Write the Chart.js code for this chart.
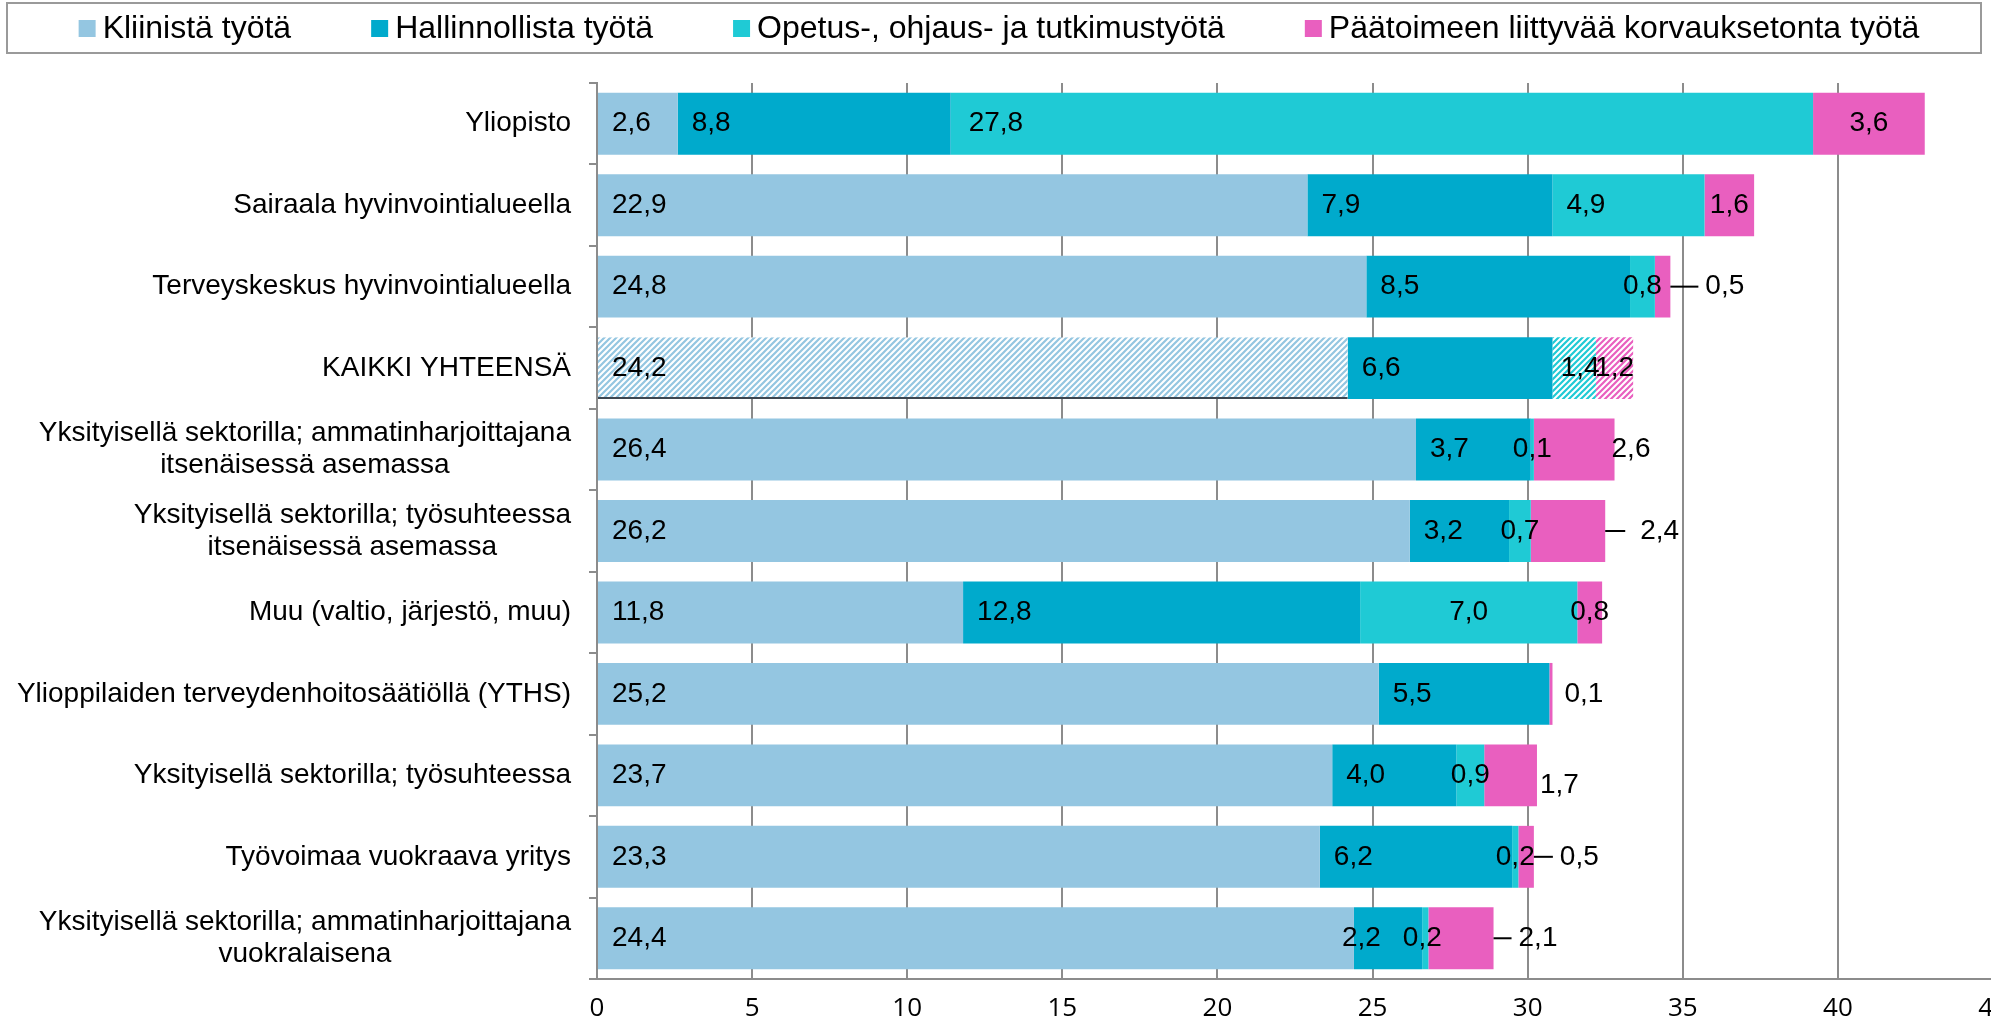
<!DOCTYPE html>
<html>
<head>
<meta charset="utf-8">
<script src="https://cdn.jsdelivr.net/npm/chart.js@4/dist/chart.umd.min.js"></script>
<style>
  html, body { margin: 0; padding: 0; overflow: hidden; background: #fff; }
</style>
</head>
<body>
<canvas id="chart" width="2000" height="1027"></canvas>
<script>
// ---------------- data ----------------
const categories = [
    ['Yliopisto'],
    ['Sairaala hyvinvointialueella'],
    ['Terveyskeskus hyvinvointialueella'],
    ['KAIKKI YHTEENSÄ'],
    ['Yksityisellä sektorilla; ammatinharjoittajana', 'itsenäisessä asemassa'],
    ['Yksityisellä sektorilla; työsuhteessa', 'itsenäisessä asemassa'],
    ['Muu (valtio, järjestö, muu)'],
    ['Ylioppilaiden terveydenhoitosäätiöllä (YTHS)'],
    ['Yksityisellä sektorilla; työsuhteessa'],
    ['Työvoimaa vuokraava yritys'],
    ['Yksityisellä sektorilla; ammatinharjoittajana', 'vuokralaisena']
];
const seriesNames = ['Kliinistä työtä', 'Hallinnollista työtä', 'Opetus-, ohjaus- ja tutkimustyötä', 'Päätoimeen liittyvää korvauksetonta työtä'];
const kliininen      = [2.6, 22.9, 24.8, 24.2, 26.4, 26.2, 11.8, 25.2, 23.7, 23.3, 24.4];
const hallinnollinen = [8.8, 7.9, 8.5, 6.6, 3.7, 3.2, 12.8, 5.5, 4.0, 6.2, 2.2];
const opetus         = [27.8, 4.9, 0.8, 1.4, 0.1, 0.7, 7.0, 0.0, 0.9, 0.2, 0.2];
const korvaukseton   = [3.6, 1.6, 0.5, 1.2, 2.6, 2.4, 0.8, 0.1, 1.7, 0.5, 2.1];
const xMin = 0, xMax = 45, xStep = 5;
const totalRow = 3; // KAIKKI YHTEENSÄ, drawn hatched

// ---------------- styles ----------------
const colors = ['#94c6e1', '#00aacc', '#1fcad5', '#e95fbf'];
const gridColor = '#8c8c8c';
const fontMain = '"Liberation Sans", Arial, sans-serif';

// where each value label goes (per series, per row)
const labelPlace = [
    Array(11).fill({ m: 'base' }),
    [{ m: 'base' }, { m: 'base' }, { m: 'base' }, { m: 'base' }, { m: 'base' }, { m: 'base' },
     { m: 'base' }, { m: 'base' }, { m: 'base' }, { m: 'base' }, { m: 'base', dx: -26 }],
    [{ m: 'base', dx: 4 }, { m: 'base' }, { m: 'center' }, { m: 'center', dx: 6 }, { m: 'center' }, { m: 'center' },
     { m: 'center' }, { m: 'center' }, { m: 'center' }, { m: 'center' }, { m: 'center', dx: -3 }],
    [{ m: 'center' }, { m: 'center' }, { m: 'leader', len: 28, gap: 7 }, { m: 'center' }, { m: 'end', dx: -3 },
     { m: 'leader', len: 20, gap: 15 }, { m: 'center' }, { m: 'end', dx: 12 }, { m: 'end', dx: 3, dy: 10 },
     { m: 'leader', len: 19, gap: 7 }, { m: 'leader', len: 18, gap: 7 }]
];

const ctx = document.getElementById('chart').getContext('2d');

function hatch(color) {
    const t = document.createElement('canvas');
    t.width = 6; t.height = 6;
    const g = t.getContext('2d');
    g.fillStyle = '#fff';
    g.fillRect(0, 0, 6, 6);
    g.strokeStyle = color;
    g.lineWidth = 2.2;
    g.beginPath();
    g.moveTo(-1, 7); g.lineTo(7, -1);
    g.moveTo(-1, 1); g.lineTo(1, -1);
    g.moveTo(5, 7); g.lineTo(7, 5);
    g.stroke();
    return ctx.createPattern(t, 'repeat');
}

function fills(i, hatched) {
    const pat = hatched ? hatch(colors[i]) : colors[i];
    return categories.map((c, r) => r === totalRow ? pat : colors[i]);
}

const fmt = v => v.toFixed(1).replace('.', ',');

// ---------------- plugins ----------------
const legendBox = {
    id: 'legendBox',
    afterDraw(chart) {
        const c = chart.ctx;
        c.save();
        c.strokeStyle = '#9a9a9a';
        c.lineWidth = 2;
        c.strokeRect(7, 3, 1974, 50);
        c.font = '32px ' + fontMain;
        c.textBaseline = 'middle';
        c.textAlign = 'left';
        const gap = 80, sw = 17, tx = 24;
        const widths = seriesNames.map(n => c.measureText(n).width);
        const total = widths.reduce((a, b) => a + b, 0) + seriesNames.length * tx + gap * (seriesNames.length - 1);
        let x = 999 - total / 2;
        seriesNames.forEach((n, i) => {
            c.fillStyle = colors[i];
            c.fillRect(x, 20, sw, sw);
            c.fillStyle = '#000';
            c.fillText(n, x + tx, 29);
            x += tx + widths[i] + gap;
        });
        c.restore();
    }
};

const categoryLabels = {
    id: 'categoryLabels',
    afterDraw(chart) {
        const c = chart.ctx;
        const ys = chart.scales.y;
        const right = chart.chartArea.left - 26;
        c.save();
        c.font = '28px ' + fontMain;
        c.fillStyle = '#000';
        c.textAlign = 'center';
        c.textBaseline = 'middle';
        categories.forEach((lines, i) => {
            const y0 = ys.getPixelForValue(i);
            const w = Math.max(...lines.map(l => c.measureText(l).width));
            const cx = right - w / 2;
            lines.forEach((l, k) => {
                c.fillText(l, cx, y0 + (k - (lines.length - 1) / 2) * 32);
            });
        });
        c.restore();
    }
};

const valueLabels = {
    id: 'valueLabels',
    afterDatasetsDraw(chart) {
        const c = chart.ctx;
        c.save();
        c.font = '28px ' + fontMain;
        c.fillStyle = '#000';
        c.strokeStyle = '#000';
        c.lineWidth = 2;
        c.textBaseline = 'middle';
        chart.data.datasets.forEach((ds, i) => {
            const meta = chart.getDatasetMeta(i);
            meta.data.forEach((bar, j) => {
                const v = ds.data[j];
                if (!v) return;
                const p = bar.getProps(['x', 'y', 'base'], true);
                const pl = labelPlace[i][j];
                const dx = pl.dx || 0, dy = pl.dy || 0;
                const txt = fmt(v);
                if (pl.m === 'base') {
                    c.textAlign = 'left';
                    c.fillText(txt, p.base + 14 + dx, p.y + dy);
                } else if (pl.m === 'center') {
                    c.textAlign = 'center';
                    c.fillText(txt, (p.base + p.x) / 2 + dx, p.y + dy);
                } else if (pl.m === 'end') {
                    c.textAlign = 'left';
                    c.fillText(txt, p.x + dx, p.y + dy);
                } else if (pl.m === 'leader') {
                    c.beginPath();
                    c.moveTo(p.x, p.y);
                    c.lineTo(p.x + pl.len, p.y);
                    c.stroke();
                    c.textAlign = 'left';
                    c.fillText(txt, p.x + pl.len + pl.gap, p.y + dy);
                }
            });
        });
        c.restore();
    }
};

// ---------------- chart ----------------
const values = [kliininen, hallinnollinen, opetus, korvaukseton];
const hatchedSeries = [true, false, true, true];

new Chart(ctx, {
    type: 'bar',
    data: {
        labels: categories,
        datasets: values.map((d, i) => ({
            label: seriesNames[i],
            data: d,
            backgroundColor: fills(i, hatchedSeries[i]),
            borderWidth: i === 0 ? (c => c.dataIndex === totalRow ? { top: 0, right: 0, bottom: 2, left: 0 } : 0) : 0,
            borderColor: '#3c4650',
            borderSkipped: false,
            barPercentage: 0.76,
            categoryPercentage: 1.0
        }))
    },
    options: {
        indexAxis: 'y',
        responsive: false,
        animation: false,
        devicePixelRatio: 1,
        layout: { padding: { top: 83, right: 7, left: 0, bottom: 0 } },
        plugins: {
            legend: { display: false },
            tooltip: { enabled: false }
        },
        scales: {
            x: {
                type: 'linear',
                stacked: true,
                min: xMin,
                max: xMax,
                ticks: {
                    stepSize: xStep,
                    color: '#000',
                    padding: 14,
                    maxRotation: 0,
                    font: { family: '"Open Sans", sans-serif', size: 26 }
                },
                grid: { color: gridColor, lineWidth: 2, drawTicks: false },
                border: { color: gridColor, width: 2 },
                afterFit: s => { s.height = 48; s.paddingRight = 0; }
            },
            y: {
                stacked: true,
                ticks: { display: false },
                grid: { drawOnChartArea: false, drawTicks: true, tickLength: 8, offset: true, color: gridColor, lineWidth: 2 },
                border: { color: gridColor, width: 2 },
                afterFit: s => { s.width = 597; }
            }
        }
    },
    plugins: [legendBox, categoryLabels, valueLabels]
});
</script>
</body>
</html>
